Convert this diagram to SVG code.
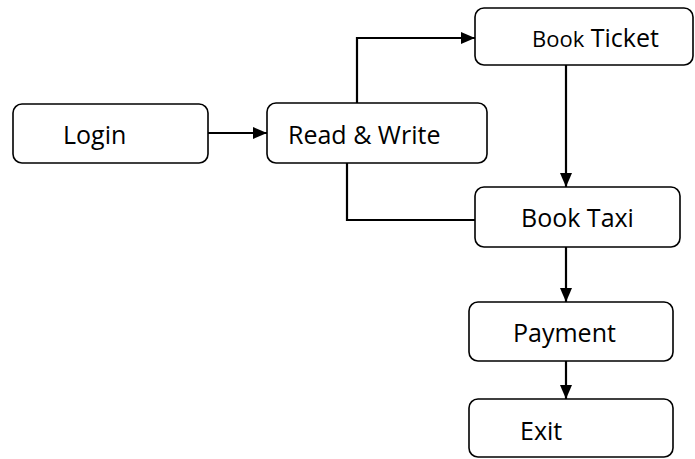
<svg xmlns="http://www.w3.org/2000/svg" width="695" height="459" viewBox="0 0 695 459">
<style>
.box{fill:#fff;stroke:#000;stroke-width:1.6}
.lbl{font-family:"Open Sans","Liberation Sans",sans-serif;font-size:25px;fill:#000}
.ln{fill:none;stroke:#000;stroke-width:2.2}
</style>
<defs>
<marker id="ah" viewBox="0 0 14 12" refX="14" refY="6" markerWidth="14" markerHeight="12" markerUnits="userSpaceOnUse" orient="auto">
<path d="M0,0 L14,6 L0,12 Z" fill="#000"/>
</marker>
</defs>
<rect width="695" height="459" fill="#fff"/>
<g id="connectors">
<path class="ln" d="M208,133 H267" marker-end="url(#ah)"/>
<path class="ln" d="M357,103 V38 H475" marker-end="url(#ah)"/>
<path class="ln" d="M566,65 V187" marker-end="url(#ah)"/>
<path class="ln" d="M347,163 V220 H475"/>
<path class="ln" d="M566,247 V302" marker-end="url(#ah)"/>
<path class="ln" d="M566,361 V399" marker-end="url(#ah)"/>
</g>
<g id="login">
<rect class="box" x="13" y="104" width="195" height="59" rx="9"/>
<text class="lbl" x="63" y="144">Login</text>
</g>
<g id="readwrite">
<rect class="box" x="267" y="103" width="220" height="60" rx="9"/>
<text class="lbl" x="288" y="144">Read &amp; Write</text>
</g>
<g id="bookticket">
<rect class="box" x="475" y="8" width="218" height="57" rx="9"/>
<text class="lbl" x="532" y="47"><tspan font-size="22">Book</tspan> Ticket</text>
</g>
<g id="booktaxi">
<rect class="box" x="475" y="187" width="205" height="60" rx="9"/>
<text class="lbl" x="521" y="227">Book Taxi</text>
</g>
<g id="payment">
<rect class="box" x="469" y="302" width="204" height="59" rx="9"/>
<text class="lbl" x="513" y="342">Payment</text>
</g>
<g id="exit">
<rect class="box" x="469" y="399" width="204" height="58" rx="9"/>
<text class="lbl" x="520" y="440">Exit</text>
</g>
</svg>
